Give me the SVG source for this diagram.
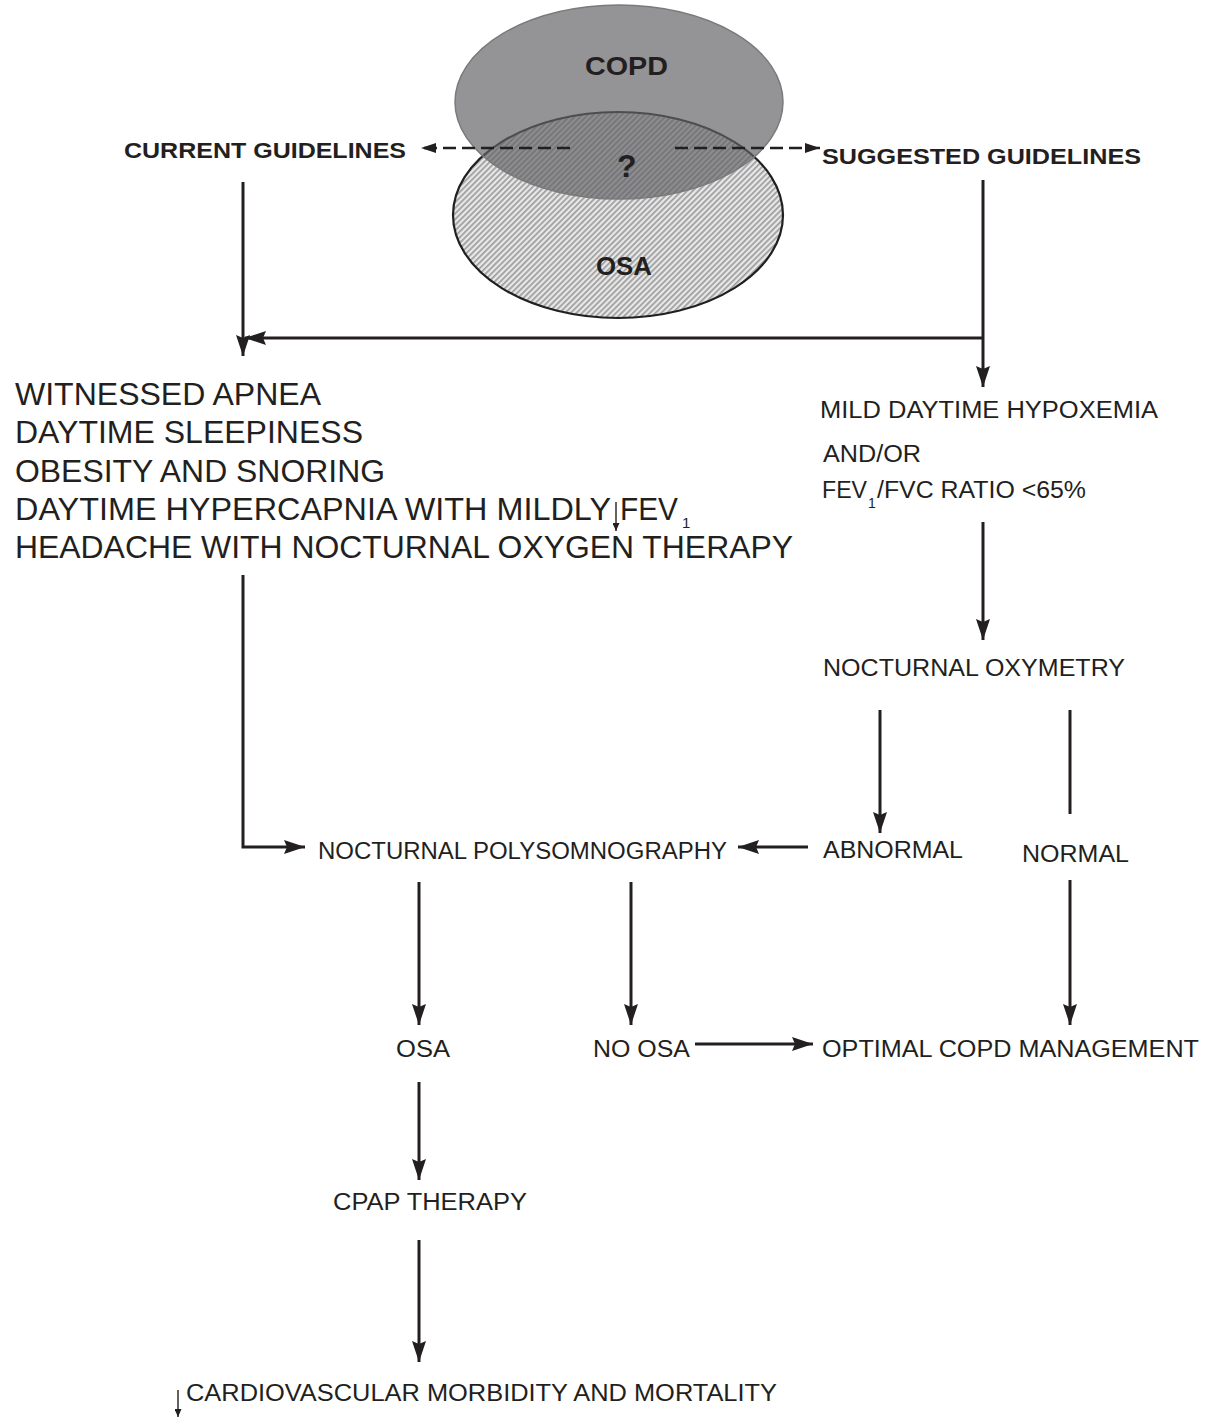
<svg xmlns="http://www.w3.org/2000/svg" width="1206" height="1418" viewBox="0 0 1206 1418">
<style>
text{font-family:"Liberation Sans",Arial,sans-serif;fill:#231f20}
.b{font-weight:bold}
.big{font-size:31px}
.md{font-size:23px}
.ln{stroke:#231f20;stroke-width:3;fill:none}
.dash{stroke:#231f20;stroke-width:2.4;fill:none;stroke-dasharray:13 6}
.thin{stroke:#231f20;stroke-width:1.4;fill:none}
</style>
<defs>
<pattern id="hatch" width="4" height="4" patternUnits="userSpaceOnUse" patternTransform="rotate(45)">
<rect width="4" height="4" fill="#e8e8e8"/><rect width="1.7" height="4" fill="#9c9c9c"/>
</pattern>
<marker id="ah" viewBox="0 0 21 14" refX="21" refY="7" markerWidth="21" markerHeight="14" orient="auto" markerUnits="userSpaceOnUse"><path d="M0,0 L21,7 L0,14 L3,7 z" fill="#231f20"/></marker>
<marker id="ahs" viewBox="0 0 15 10" refX="15" refY="5" markerWidth="15" markerHeight="10" orient="auto" markerUnits="userSpaceOnUse"><path d="M0,0 L15,5 L0,10 z" fill="#231f20"/></marker>
<marker id="aht" viewBox="0 0 8 7" refX="8" refY="3.5" markerWidth="8" markerHeight="7" orient="auto" markerUnits="userSpaceOnUse"><path d="M0,0 L8,3.5 L0,7 z" fill="#231f20"/></marker>
</defs>

<g id="venn">
<ellipse id="osa-set" cx="618" cy="215" rx="165" ry="103" fill="url(#hatch)" stroke="#231f20" stroke-width="2.2"/>
<ellipse id="copd-set" cx="619" cy="102" rx="164" ry="97" fill="#616166" fill-opacity="0.68" stroke="#7a7a7c" stroke-width="1.5"/>
<text class="b" x="585" y="75" font-size="25" textLength="83" lengthAdjust="spacingAndGlyphs">COPD</text>
<text class="b" x="617" y="177" font-size="32">?</text>
<text class="b" x="596" y="275" font-size="25" textLength="56" lengthAdjust="spacingAndGlyphs">OSA</text>
</g>

<g id="current"><text class="b" x="124" y="158" font-size="22" textLength="282" lengthAdjust="spacingAndGlyphs">CURRENT GUIDELINES</text></g>
<g id="suggested"><text class="b" x="822" y="164" font-size="22" textLength="319" lengthAdjust="spacingAndGlyphs">SUGGESTED GUIDELINES</text></g>

<g id="symptoms" class="big">
<text x="15" y="405" textLength="306" lengthAdjust="spacingAndGlyphs">WITNESSED APNEA</text>
<text x="15" y="443" textLength="348" lengthAdjust="spacingAndGlyphs">DAYTIME SLEEPINESS</text>
<text x="15" y="482" textLength="370" lengthAdjust="spacingAndGlyphs">OBESITY AND SNORING</text>
<text x="15" y="520" textLength="596" lengthAdjust="spacingAndGlyphs">DAYTIME HYPERCAPNIA WITH MILDLY</text>
<text x="620" y="520" textLength="58" lengthAdjust="spacingAndGlyphs">FEV</text>
<text x="682" y="528" font-size="15">1</text>
<text x="15" y="558" textLength="778" lengthAdjust="spacingAndGlyphs">HEADACHE WITH NOCTURNAL OXYGEN THERAPY</text>
<path class="thin" d="M616,502 V531" marker-end="url(#aht)"/>
</g>

<g id="criteria" class="md">
<text x="820" y="418" textLength="338" lengthAdjust="spacingAndGlyphs">MILD DAYTIME HYPOXEMIA</text>
<text x="823" y="462" textLength="98" lengthAdjust="spacingAndGlyphs">AND/OR</text>
<text x="822" y="498" textLength="45" lengthAdjust="spacingAndGlyphs">FEV</text>
<text x="868" y="508" font-size="14">1</text>
<text x="877" y="498" textLength="209" lengthAdjust="spacingAndGlyphs">/FVC RATIO &lt;65%</text>
</g>

<g id="oxymetry"><text class="md" x="823" y="676" textLength="302" lengthAdjust="spacingAndGlyphs">NOCTURNAL OXYMETRY</text></g>
<g id="abnormal"><text class="md" x="823" y="858" textLength="140" lengthAdjust="spacingAndGlyphs">ABNORMAL</text></g>
<g id="normal"><text class="md" x="1022" y="862" textLength="107" lengthAdjust="spacingAndGlyphs">NORMAL</text></g>
<g id="psg"><text class="md" x="318" y="859" textLength="409" lengthAdjust="spacingAndGlyphs">NOCTURNAL POLYSOMNOGRAPHY</text></g>
<g id="osa"><text class="md" x="396" y="1057" textLength="54" lengthAdjust="spacingAndGlyphs">OSA</text></g>
<g id="noosa"><text class="md" x="593" y="1057" textLength="97" lengthAdjust="spacingAndGlyphs">NO OSA</text></g>
<g id="optimal"><text class="md" x="822" y="1057" textLength="377" lengthAdjust="spacingAndGlyphs">OPTIMAL COPD MANAGEMENT</text></g>
<g id="cpap"><text class="md" x="333" y="1210" textLength="194" lengthAdjust="spacingAndGlyphs">CPAP THERAPY</text></g>
<g id="cardio">
<text class="md" x="186" y="1401" textLength="591" lengthAdjust="spacingAndGlyphs">CARDIOVASCULAR MORBIDITY AND MORTALITY</text>
<path class="thin" d="M178,1390 V1417" marker-end="url(#aht)"/>
</g>

<g id="connectors">
<path class="dash" d="M570,148 H421" marker-end="url(#ahs)"/>
<path class="dash" d="M675,148 H820" marker-end="url(#ahs)"/>
<path class="ln" d="M243,182 V356" marker-end="url(#ah)"/>
<path class="ln" d="M983,180 V387" marker-end="url(#ah)"/>
<path class="ln" d="M983,338 H245" marker-end="url(#ah)"/>
<path class="ln" d="M983,522 V640" marker-end="url(#ah)"/>
<path class="ln" d="M880,710 V833" marker-end="url(#ah)"/>
<path class="ln" d="M1070,710 V814"/>
<path class="ln" d="M243,575 V847 H305" marker-end="url(#ah)"/>
<path class="ln" d="M808,847 H738" marker-end="url(#ah)"/>
<path class="ln" d="M419,882 V1025" marker-end="url(#ah)"/>
<path class="ln" d="M631,882 V1025" marker-end="url(#ah)"/>
<path class="ln" d="M1070,880 V1025" marker-end="url(#ah)"/>
<path class="ln" d="M695,1044 H813" marker-end="url(#ah)"/>
<path class="ln" d="M419,1082 V1180" marker-end="url(#ah)"/>
<path class="ln" d="M419,1240 V1362" marker-end="url(#ah)"/>
</g>
</svg>
